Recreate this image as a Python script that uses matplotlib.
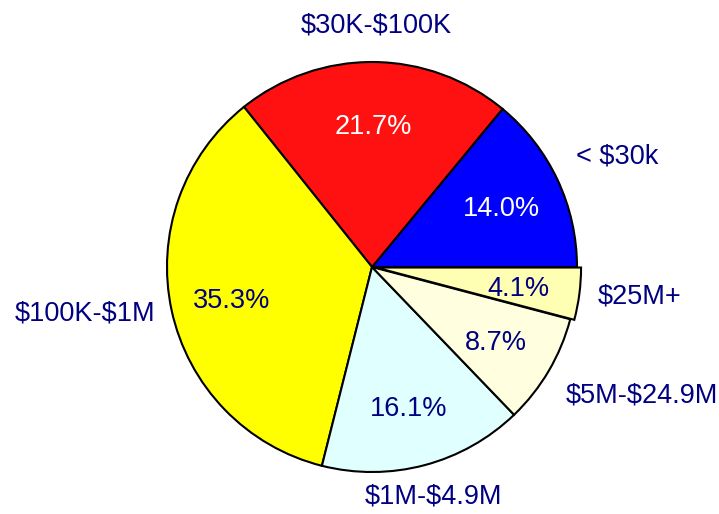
import matplotlib.pyplot as plt
import numpy as np

plt.rcParams['font.family'] = ['Liberation Sans', 'DejaVu Sans']
plt.rcParams['text.parse_math'] = False

labels = ['< $30k', '$30K-$100K', '$100K-$1M', '$1M-$4.9M', '$5M-$24.9M', '$25M+']
shares = [14.0, 21.7, 35.3, 16.1, 8.7, 4.1]
colors = ['#0000ff', '#ff1111', '#ffff00', '#e0ffff', '#ffffe0', '#ffffb3']
pct_colors = ['white', 'white', 'navy', 'navy', 'navy', 'navy']
# radial distance and angular nudge (degrees) of each outer label
label_dist = [1.31, 1.18, 1.42, 1.16, 1.46, 1.315]
label_turn = [-1, -0.5, -3, 0, 5, 1]
explode = [0, 0, 0, 0, 0, 0.02]

fig = plt.figure(figsize=(7.19, 5.14), dpi=100)
ax = fig.add_axes([0, 0, 1, 1])

wedges, texts, autotexts = ax.pie(
    shares, labels=labels, colors=colors, explode=explode,
    startangle=0, counterclock=True, autopct='%1.1f%%', pctdistance=0.70,
    normalize=True,
    wedgeprops=dict(edgecolor='black', linewidth=1.5),
    textprops=dict(fontsize=19.5, color='navy'))

for w, t, d, turn in zip(wedges, texts, label_dist, label_turn):
    mid = np.deg2rad((w.theta1 + w.theta2) / 2 + turn)
    t.set_position((d * np.cos(mid), d * np.sin(mid)))
    t.set_ha('center')
    t.set_va('center')

for at, c in zip(autotexts, pct_colors):
    at.set_color(c)
    x, y = at.get_position()
    at.set_position((x, y - 0.015))

ax.set_xlim(-372 / 205, (719 - 372) / 205)
ax.set_ylim(-247 / 205, 267 / 205)
ax.set_aspect('auto')
ax.axis('off')

fig.savefig('out.png', dpi=100)
